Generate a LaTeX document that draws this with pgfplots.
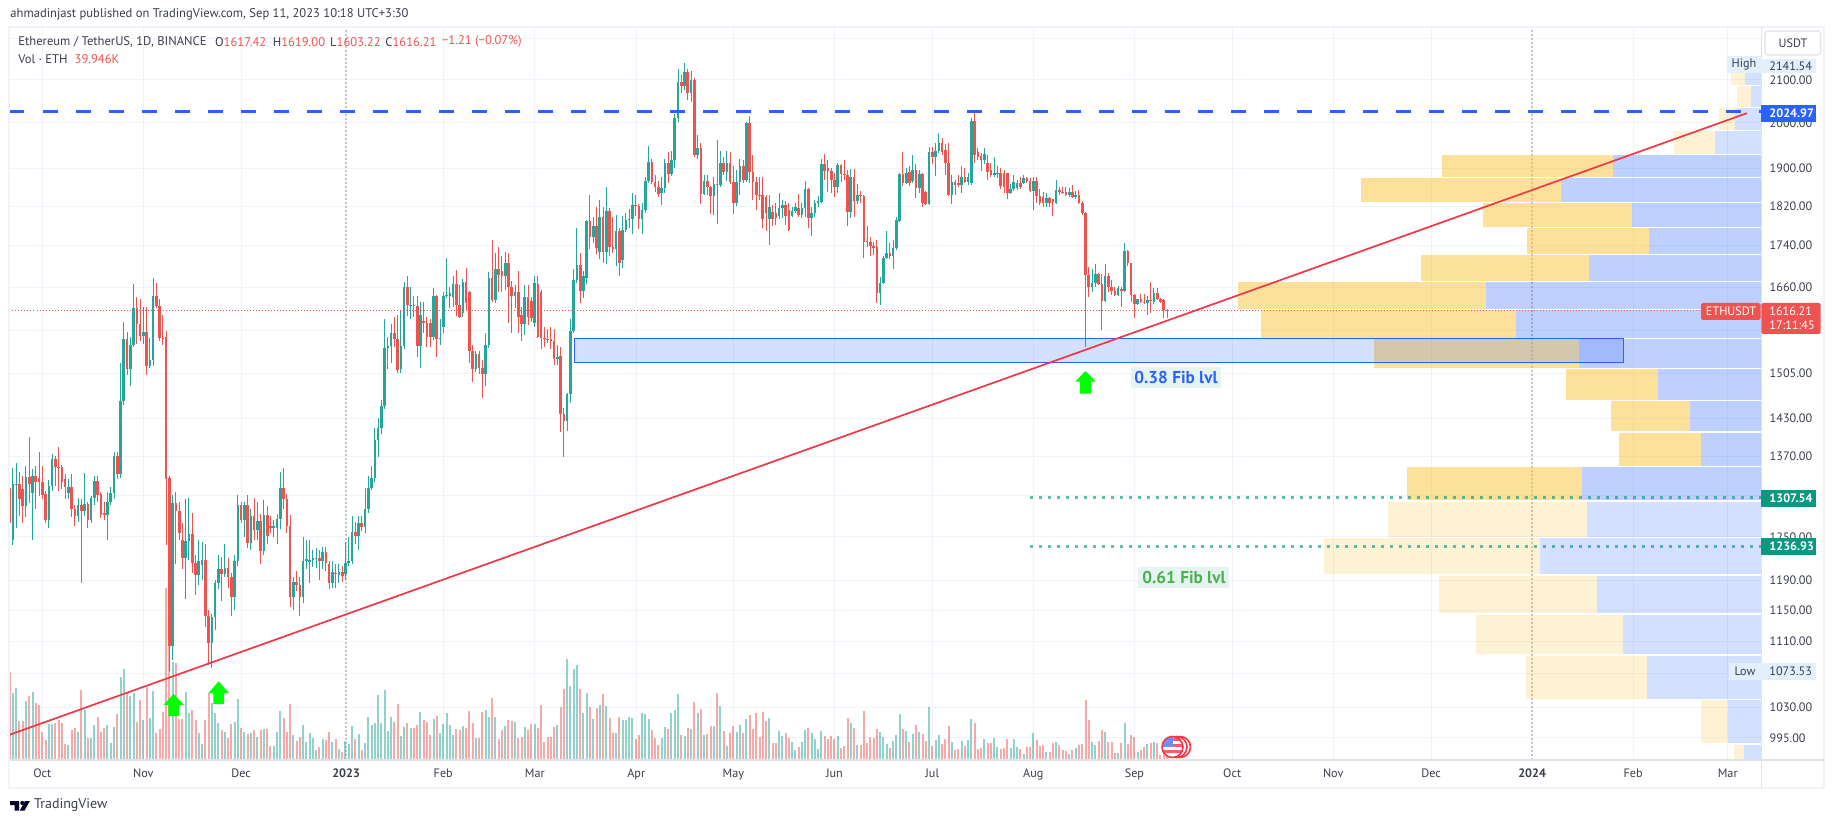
\documentclass[border=0pt]{standalone}
\usepackage{pgfplots}
\usepackage{pgfplotstable}
\usepackage{fontspec}
\setmainfont{PT Sans}
\pgfplotsset{compat=1.18}
\definecolor{up}{HTML}{26A69A}
\definecolor{dn}{HTML}{EF5350}
\definecolor{tvblue}{HTML}{2962FF}
\definecolor{vpY}{HTML}{FBC02D}
\definecolor{gridc}{HTML}{F0F3FA}
\definecolor{sepc}{HTML}{E0E3EB}
\definecolor{txt}{HTML}{3A3E4A}
\definecolor{tlred}{HTML}{F23645}
\definecolor{teal2}{HTML}{089981}
\definecolor{lightb}{HTML}{E3EFFD}
\definecolor{fibbg}{HTML}{E6F4F1}
\definecolor{fibgreen}{HTML}{4CAF50}
\pgfplotstableread{
d o h l c v
-10 1321 1406 1197 1270 707
-9 1246 1352 1238 1327 533
-8 1327 1360 1263 1328 573
-7 1328 1345 1280 1305 312
-6 1320 1340 1270 1295 312
-5 1295 1355 1278 1338 472
-4 1338 1400 1299 1328 512
-3 1314 1350 1245 1340 541
-2 1340 1355 1291 1331 459
-1 1337 1376 1310 1330 440
0 1330 1355 1305 1311 227
1 1312 1317 1270 1275 160
2 1275 1333 1263 1325 285
3 1325 1374 1317 1365 285
4 1365 1370 1325 1354 293
5 1354 1385 1317 1353 320
6 1353 1356 1320 1331 293
7 1335 1342 1305 1323 128
8 1314 1335 1305 1323 120
9 1323 1342 1278 1290 240
10 1290 1296 1265 1280 253
11 1280 1306 1272 1296 221
12 1296 1305 1187 1288 560
13 1288 1344 1280 1297 400
14 1297 1300 1263 1274 173
15 1274 1310 1270 1306 173
16 1306 1340 1296 1332 280
17 1332 1340 1300 1311 347
18 1312 1316 1277 1282 221
19 1284 1300 1275 1281 253
20 1281 1315 1245 1300 280
21 1300 1323 1296 1314 133
22 1314 1376 1305 1370 261
23 1370 1376 1335 1343 368
24 1343 1522 1337 1458 661
25 1458 1595 1452 1565 725
26 1565 1578 1502 1513 539
27 1513 1568 1483 1554 512
28 1554 1665 1550 1621 539
29 1621 1642 1556 1591 307
30 1591 1637 1561 1571 480
31 1571 1622 1556 1578 320
32 1578 1622 1503 1517 587
33 1517 1567 1514 1528 333
34 1528 1678 1517 1643 552
35 1643 1667 1621 1625 213
36 1625 1637 1562 1567 245
37 1567 1608 1555 1565 387
38 1568 1580 1238 1335 1373
39 1336 1340 1073.53 1104 1467
40 1104 1311 1087 1299 781
41 1299 1316 1212 1288 773
42 1288 1300 1245 1255 325
43 1246 1270 1205 1221 325
44 1221 1305 1165 1244 547
45 1244 1306 1218 1254 379
46 1254 1285 1200 1214 400
47 1214 1225 1170 1197 320
48 1197 1245 1183 1216 213
49 1211 1243 1190 1218 128
50 1218 1240 1128 1143 320
51 1143 1150 1081 1108 539
52 1108 1145 1077 1141 453
53 1141 1190 1125 1186 373
54 1186 1225 1178 1206 293
55 1206 1222 1163 1199 240
56 1199 1240 1195 1207 227
57 1207 1220 1180 1195 173
58 1195 1200 1143 1168 285
59 1168 1225 1150 1217 307
60 1217 1311 1210 1296 488
61 1296 1300 1270 1275 253
62 1275 1300 1250 1296 227
63 1296 1311 1235 1241 205
64 1241 1290 1232 1280 219
65 1280 1307 1245 1260 240
66 1260 1300 1245 1273 187
67 1273 1283 1212 1230 240
68 1230 1303 1225 1281 245
69 1281 1295 1240 1252 248
70 1265 1280 1255 1263 112
71 1263 1275 1250 1266 112
72 1263 1283 1240 1276 227
73 1276 1345 1262 1322 392
74 1322 1352 1290 1305 333
75 1305 1312 1255 1265 227
76 1265 1281 1155 1168 448
77 1168 1195 1150 1188 200
78 1188 1202 1175 1184 155
79 1184 1195 1143 1167 187
80 1167 1250 1160 1217 280
81 1217 1245 1205 1219 147
82 1215 1245 1187 1218 213
83 1218 1232 1208 1220 173
84 1219 1235 1207 1221 80
85 1221 1231 1190 1217 107
86 1217 1236 1206 1229 165
87 1229 1236 1203 1214 160
88 1212 1217 1178 1187 227
89 1187 1217 1180 1201 147
90 1200.5 1212 1180 1200 165
91 1197 1212 1187 1201 85
92 1201 1210 1188 1196 67
93 1198 1243 1190 1214 155
94 1214 1250 1210 1216 128
95 1216 1280 1212 1257 272
96 1257 1272 1240 1251 165
97 1251 1280 1232 1270 208
98 1270 1280 1258 1264 80
99 1264 1321 1256 1291 133
100 1291 1340 1285 1322 347
101 1322 1355 1319 1337 280
102 1337 1415 1330 1395 293
103 1395 1430 1368 1415 520
104 1415 1460 1405 1450 299
105 1450 1600 1445 1549 560
106 1549 1568 1513 1553 232
107 1553 1591 1522 1576 347
108 1576 1605 1550 1565 307
109 1565 1608 1505 1510 448
110 1512 1615 1505 1552 192
111 1552 1670 1548 1660 267
112 1660 1680 1606 1627 293
113 1625 1661 1600 1627 253
114 1627 1644 1604 1625 253
115 1625 1644 1534 1553 280
116 1553 1633 1515 1608 381
117 1597 1633 1575 1594 320
118 1594 1605 1550 1569 307
119 1594 1600 1550 1569 200
120 1569 1659 1563 1643 325
121 1643 1645 1534 1565 352
122 1565 1600 1555 1566 213
123 1586 1650 1575 1643 288
124 1643 1716 1640 1645 373
125 1643 1661 1621 1649 280
126 1642 1680 1623 1666 200
127 1666 1693 1606 1627 245
128 1627 1664 1603 1605 240
129 1612 1675 1605 1669 272
130 1669 1696 1615 1631 253
131 1650 1652 1522 1544 392
132 1544 1555 1490 1513 293
133 1513 1544 1507 1538 173
134 1538 1544 1504 1515 173
135 1515 1528 1463 1504 387
136 1504 1576 1484 1555 400
137 1555 1689 1549 1677 341
138 1677 1751 1632 1635 499
139 1635 1725 1630 1695 347
140 1695 1737 1650 1682 165
141 1690 1720 1650 1680 240
142 1680 1727 1655 1705 272
143 1705 1725 1594 1660 320
144 1660 1672 1576 1643 315
145 1643 1664 1621 1650 307
146 1650 1690 1576 1605 173
147 1608 1622 1561 1592 187
148 1592 1664 1572 1642 267
149 1642 1664 1590 1605 240
150 1634 1642 1596 1602 288
151 1593 1680 1586 1668 288
152 1665 1680 1566 1569 253
153 1650 1655 1548 1567 440
154 1567 1587 1550 1565 147
155 1565 1583 1558 1564 181
156 1565 1587 1548 1562 187
157 1562 1583 1520 1530 267
158 1530 1555 1520 1534 280
159 1535 1550 1408 1437 427
160 1437 1447 1369 1426 571
161 1426 1472 1409 1470 808
162 1470 1601 1455 1580 595
163 1580 1695 1575 1673 725
164 1673 1776 1667 1702 760
165 1702 1725 1630 1652 568
166 1652 1690 1640 1680 373
167 1678 1792 1665 1790 539
168 1790 1842 1733 1757 421
169 1757 1797 1745 1780 325
170 1780 1819 1723 1735 413
171 1727 1833 1713 1797 440
172 1797 1819 1705 1727 528
173 1727 1860 1703 1810 432
174 1810 1815 1720 1738 339
175 1738 1797 1726 1733 219
176 1733 1802 1700 1770 219
177 1770 1776 1680 1705 341
178 1712 1800 1696 1772 320
179 1772 1806 1768 1792 320
180 1792 1813 1775 1793 347
181 1793 1848 1763 1823 339
182 1823 1843 1800 1821 168
183 1821 1824 1773 1793 200
184 1793 1826 1763 1811 373
185 1811 1881 1806 1873 368
186 1873 1949 1868 1913 328
187 1913 1919 1865 1871 240
188 1871 1885 1850 1860 179
189 1860 1872 1838 1845 120
190 1846 1881 1822 1857 179
191 1857 1920 1848 1911 261
192 1911 1935 1868 1888 248
193 1888 1938 1883 1917 373
194 1917 2020 1900 2010 400
195 2010 2126 2001 2096 528
196 2096 2112 2070 2085 200
197 2085 2141.54 2075 2119 192
198 2119 2125 2052 2068 256
199 2068 2120 2047 2100 248
200 2100 2105 1924 1929 464
201 1929 1972 1920 1943 373
202 1943 1955 1825 1845 408
203 1845 1885 1843 1873 200
204 1873 1885 1843 1860 208
205 1860 1861 1804 1840 272
206 1840 1881 1802 1866 272
207 1866 1962 1783 1864 533
208 1864 1938 1860 1911 432
209 1911 1925 1885 1892 232
210 1892 1938 1873 1911 112
211 1911 1935 1865 1870 213
212 1870 1904 1804 1827 272
213 1827 1896 1821 1870 224
214 1870 1920 1843 1904 280
215 1904 1918 1868 1874 213
216 1874 2002 1870 2000 328
217 2000 2015 1868 1891 360
218 1891 1929 1833 1870 248
219 1870 1881 1812 1843 373
220 1843 1882 1833 1842 181
221 1842 1882 1775 1793 381
222 1838 1842 1770 1805 312
223 1793 1842 1741 1819 333
224 1807 1822 1780 1793 133
225 1806 1826 1782 1795 133
226 1800 1848 1793 1815 229
227 1815 1833 1795 1822 192
228 1822 1830 1782 1800 213
229 1812 1826 1770 1772 173
230 1800 1819 1798 1810 147
231 1810 1826 1805 1819 80
232 1815 1845 1798 1802 101
233 1802 1826 1795 1815 144
234 1815 1872 1798 1855 240
235 1855 1857 1775 1795 253
236 1796 1819 1760 1805 213
237 1805 1833 1798 1826 168
238 1826 1840 1819 1830 88
239 1828 1919 1826 1909 229
240 1909 1930 1875 1893 192
241 1900 1917 1850 1893 165
242 1893 1900 1846 1874 192
243 1874 1889 1839 1860 168
244 1860 1911 1847 1906 192
245 1906 1909 1870 1888 93
246 1888 1917 1875 1884 112
247 1884 1896 1780 1807 333
248 1807 1898 1795 1882 293
249 1882 1898 1798 1830 253
250 1830 1866 1825 1843 120
251 1843 1852 1826 1840 120
252 1840 1843 1716 1748 392
253 1750 1780 1738 1748 139
254 1748 1757 1720 1739 181
255 1740 1747 1722 1736 173
256 1738 1752 1631 1649 245
257 1649 1679 1627 1667 221
258 1667 1719 1665 1716 187
259 1716 1770 1713 1726 125
260 1726 1745 1713 1719 93
261 1719 1752 1695 1735 152
262 1735 1797 1732 1792 200
263 1790 1889 1788 1887 365
264 1887 1935 1861 1868 245
265 1868 1900 1866 1889 235
266 1892 1904 1861 1868 147
267 1873 1929 1868 1896 205
268 1896 1909 1836 1857 280
269 1857 1896 1847 1887 224
270 1887 1889 1817 1826 208
271 1850 1852 1823 1825 152
272 1825 1945 1823 1935 421
273 1935 1947 1909 1923 112
274 1923 1955 1883 1937 160
275 1937 1978 1933 1955 200
276 1955 1966 1928 1935 128
277 1939 1952 1884 1911 168
278 1911 1955 1840 1843 272
279 1843 1885 1825 1870 144
280 1870 1875 1843 1863 80
281 1868 1885 1859 1863 85
282 1863 1905 1847 1880 152
283 1880 1900 1868 1870 112
284 1870 1889 1863 1880 160
285 1868 2011 1864 2003 328
286 2003 2025 1910 1929 296
287 1935 1944 1917 1925 88
288 1927 1933 1893 1918 96
289 1918 1944 1909 1930 168
290 1910 1929 1875 1892 133
291 1896 1911 1882 1885 133
292 1885 1925 1882 1889 176
293 1887 1904 1878 1889 104
294 1889 1900 1855 1862 88
295 1889 1896 1847 1860 93
296 1889 1890 1834 1848 168
297 1848 1866 1846 1855 96
298 1855 1885 1851 1870 165
299 1857 1875 1853 1869 104
300 1869 1882 1855 1859 88
301 1869 1885 1866 1879 45
302 1879 1882 1868 1872 104
303 1872 1879 1849 1852 104
304 1852 1882 1812 1872 216
305 1872 1881 1826 1840 160
306 1840 1855 1823 1826 109
307 1838 1850 1819 1827 120
308 1827 1847 1817 1836 64
309 1836 1838 1819 1827 64
310 1834 1835 1800 1828 136
311 1826 1874 1824 1853 144
312 1853 1860 1843 1850 120
313 1850 1860 1845 1848 80
314 1849 1859 1840 1842 72
315 1842 1858 1838 1849 48
316 1849 1863 1836 1838 80
317 1838 1851 1834 1843 96
318 1843 1853 1825 1827 120
319 1827 1831 1802 1806 128
320 1806 1808 1551 1682 480
321 1682 1698 1641 1660 320
322 1660 1694 1651 1668 144
323 1668 1703 1661 1685 120
324 1685 1687 1664 1666 152
325 1666 1684 1581 1634 240
326 1634 1703 1632 1681 224
327 1681 1686 1651 1660 144
328 1660 1673 1645 1652 144
329 1652 1660 1643 1645 56
330 1645 1662 1643 1659 56
331 1657 1660 1622 1652 136
332 1652 1745 1650 1730 296
333 1730 1731 1700 1705 128
334 1705 1706 1632 1645 200
335 1645 1646 1603 1628 184
336 1628 1637 1626 1637 64
337 1637 1646 1630 1633 80
338 1633 1646 1629 1631 104
339 1631 1643 1609 1635 128
340 1635 1670 1611 1634 136
341 1632 1659 1628 1649 144
342 1649 1659 1636 1637 136
343 1637 1640 1631 1632 40
344 1635 1637 1603 1617 53
345 1617.42 1619 1603.22 1616.21 39.946
}\candles
\newcommand{\vprow}[6]{%
 \addplot[draw=none,fill=vpY,fill opacity=#5] coordinates {(#3,#1)(#4,#1)(#4,#2)(#3,#2)} -- cycle;
 \addplot[draw=none,fill=tvblue,fill opacity=#6] coordinates {(#4,#1)(527.3,#1)(527.3,#2)(#4,#2)} -- cycle;
}
\pgfplotsset{base/.style={scale only axis,width=875.9pt,height=366.5pt,at={(4.75pt,-380pt)},anchor=south west,
  xmin=-10.06,xmax=527.3,clip=true},
  updn/.style={restrict expr to domain={\thisrow{c}-\thisrow{o}}{0:100000}},
  dndn/.style={restrict expr to domain={\thisrow{c}-\thisrow{o}}{-100000:-0.00001}}}
\newcommand{\lab}{\fontsize{6.1}{7.5}\selectfont}
\newcommand{\hdr}{\fontsize{6.3}{7.5}\selectfont}
\newcommand{\tagb}[7]{%
 \fill[#5] (#1,#2) rectangle (#3,#4);
 \node[anchor=west,inner sep=0pt,text=#6,font=\lab] at (1769,{(#2+#4)/2}) {#7};
}
\begin{document}
\begin{tikzpicture}[x=0.5pt,y=-0.5pt]
\path[use as bounding box] (0,0) rectangle (1835,823);
\begin{axis}[base,ymode=log,ymin=970.5,ymax=2230,
  axis line style={draw=none},tick style={draw=none},
  grid=major,grid style={draw=gridc,line width=0.5pt},
  xtick={0,31,61,93.2,123,151.1,182.2,212,243,273,304,335,365,396,426,457,488,517},
  xticklabels={Oct,Nov,Dec,\textbf{2023},Feb,Mar,Apr,May,Jun,Jul,Aug,Sep,Oct,Nov,Dec,\textbf{2024},Feb,Mar},
  xticklabel style={font=\lab,text=txt,anchor=base,yshift=-8.8pt,inner sep=0pt},
  ytick={995,1030,1070,1110,1150,1190,1250,1310,1370,1430,1505,1580,1660,1740,1820,1900,2000,2100,2200},
  yticklabels={995.00,1030.00,1070.00,1110.00,1150.00,1190.00,1250.00,1310.00,1370.00,1430.00,1505.00,1580.00,1660.00,1740.00,1820.00,1900.00,2000.00,2100.00,{}},
  yticklabel pos=right,
  yticklabel style={font=\lab,text=txt,anchor=west,inner sep=0pt,xshift=4pt},
]
\addplot[draw=black!22,line width=0.9pt,dash pattern=on 1pt off 1pt] coordinates {(93.2,970.5)(93.2,2230)};
\addplot[draw=black!22,line width=0.9pt,dash pattern=on 1pt off 1pt] coordinates {(457,970.5)(457,2230)};
\vprow{2117}{2088}{518.0}{522.3}{0.2}{0.2}
\vprow{2086}{2037}{519.8}{524.1}{0.2}{0.2}
\vprow{2034}{1983}{514.3}{519.2}{0.2}{0.2}
\vprow{1981}{1930}{500.5}{513.1}{0.2}{0.2}
\vprow{1928}{1881}{429.3}{481.8}{0.48}{0.3}
\vprow{1879}{1829}{404.5}{465.9}{0.48}{0.3}
\vprow{1827}{1777}{442.0}{487.6}{0.48}{0.3}
\vprow{1775}{1724}{455.4}{492.7}{0.48}{0.3}
\vprow{1722}{1672}{422.9}{474.3}{0.48}{0.3}
\vprow{1670}{1619}{366.8}{442.8}{0.48}{0.3}
\vprow{1618}{1567}{373.8}{452.0}{0.48}{0.3}
\vprow{1565}{1514}{408.5}{471.4}{0.48}{0.3}
\vprow{1512}{1461}{467.4}{495.6}{0.48}{0.3}
\vprow{1459}{1409}{481.1}{505.4}{0.48}{0.3}
\vprow{1407}{1355}{483.6}{508.8}{0.48}{0.3}
\vprow{1353}{1303}{418.6}{472.2}{0.48}{0.3}
\vprow{1301}{1250}{412.7}{473.8}{0.2}{0.2}
\vprow{1249}{1198}{393.2}{459.3}{0.2}{0.2}
\vprow{1196}{1146}{428.4}{476.9}{0.2}{0.2}
\vprow{1144}{1094}{439.8}{484.9}{0.2}{0.2}
\vprow{1092}{1040.6}{455.1}{492.2}{0.2}{0.2}
\vprow{1039}{989}{508.8}{517.2}{0.2}{0.2}
\vprow{987}{970.5}{518.9}{522.0}{0.2}{0.2}
\end{axis}
\begin{axis}[base,hide axis,ymin=0,ymax=5864]
\addplot[updn,ycomb,no marks,draw=up,draw opacity=0.5,line width=1pt] table[x=d,y=v]{\candles};
\addplot[dndn,ycomb,no marks,draw=dn,draw opacity=0.5,line width=1pt] table[x=d,y=v]{\candles};
\end{axis}
\begin{axis}[base,ymode=log,ymin=970.5,ymax=2230,hide axis]
\addplot[updn,draw=none,no marks,error bars/.cd,y dir=both,y explicit,error mark=none,
   error bar style={draw=up,line width=0.5pt}]
  table[x=d,y=o,y error plus expr=\thisrow{h}-\thisrow{o},y error minus expr=\thisrow{o}-\thisrow{l}]{\candles};
\addplot[updn,draw=none,no marks,error bars/.cd,y dir=plus,y explicit,error mark=none,
   error bar style={draw=up,line width=1.3pt}]
  table[x=d,y=o,y error plus expr=\thisrow{c}-\thisrow{o}]{\candles};
\addplot[dndn,draw=none,no marks,error bars/.cd,y dir=both,y explicit,error mark=none,
   error bar style={draw=dn,line width=0.5pt}]
  table[x=d,y=c,y error plus expr=\thisrow{h}-\thisrow{c},y error minus expr=\thisrow{c}-\thisrow{l}]{\candles};
\addplot[dndn,draw=none,no marks,error bars/.cd,y dir=plus,y explicit,error mark=none,
   error bar style={draw=dn,line width=1.3pt}]
  table[x=d,y=c,y error plus expr=\thisrow{o}-\thisrow{c}]{\candles};
\addplot[draw=dn,line width=0.45pt,dash pattern=on 0.5pt off 1pt] coordinates {(-10.06,1616.21)(508.8,1616.21)};
\addplot[draw=tvblue,line width=0.5pt,fill=tvblue,fill opacity=0.2] coordinates {(163.1,1565)(485,1565)(485,1524)(163.1,1524)} -- cycle;
\addplot[draw=teal2,draw opacity=0.65,line width=1.4pt,dash pattern=on 1.5pt off 3pt] coordinates {(302.9,1307.54)(527.3,1307.54)};
\addplot[draw=teal2,draw opacity=0.65,line width=1.4pt,dash pattern=on 1.5pt off 3pt] coordinates {(302.9,1236.93)(527.3,1236.93)};
\addplot[draw=tvblue,line width=1.6pt,dash pattern=on 7.5pt off 9pt] coordinates {(-10.06,2024.97)(527.3,2024.97)};
\addplot[draw=tlred,line width=0.85pt] coordinates {(-10.06,998.6)(522.9,2022)};
\addplot[draw=none,fill=green] coordinates {(40.3,1046)(43.46,1033)(41.94,1033)(41.94,1020)(38.66,1020)(38.66,1033)(37.14,1033)} -- cycle;
\addplot[draw=none,fill=green] coordinates {(54.1,1061)(57.26,1047)(55.74,1047)(55.74,1034)(52.46,1034)(52.46,1047)(50.94,1047)} -- cycle;
\addplot[draw=none,fill=green] coordinates {(320,1509)(323.16,1491)(321.64,1491)(321.64,1471)(318.36,1471)(318.36,1491)(316.84,1491)} -- cycle;
\end{axis}
\draw[gridc,line width=1pt] (9,27) rectangle (1824,788);
\draw[sepc,line width=0.6pt] (9.5,760) -- (1823.5,760);
\draw[sepc,line width=0.6pt] (1761.3,27) -- (1761.3,788);
\node[anchor=west,inner sep=0pt,font=\hdr,text=txt] at (10,14.7) {ahmadinjast published on TradingView.com, Sep 11, 2023 10:18 UTC+3:30};
\node[anchor=west,inner sep=0pt,font=\hdr,text=txt] at (18,41.7) {Ethereum / TetherUS, 1D, BINANCE};
\node[anchor=west,inner sep=0pt,font=\hdr,text=txt] at (214.7,41.7) {O\textcolor{dn}{1617.42}};
\node[anchor=west,inner sep=0pt,font=\hdr,text=txt] at (272.4,41.7) {H\textcolor{dn}{1619.00}};
\node[anchor=west,inner sep=0pt,font=\hdr,text=txt] at (329.8,41.7) {L\textcolor{dn}{1603.22}};
\node[anchor=west,inner sep=0pt,font=\hdr,text=txt] at (385,41.7) {C\textcolor{dn}{1616.21}};
\node[anchor=west,inner sep=0pt,font=\hdr,text=dn] at (441.7,41.7) {−1.21 (−0.07\%)};
\node[anchor=west,inner sep=0pt,font=\hdr,text=txt] at (18,59) {Vol · ETH};
\node[anchor=west,inner sep=0pt,font=\hdr,text=dn] at (74.3,59) {39.946K};
\fill[fibbg] (1131,367) rectangle (1221,388);
\node[font=\bfseries\fontsize{8.6}{10}\selectfont,text=tvblue,inner sep=0pt] at (1176,377.5) {0.38 Fib lvl};
\fill[fibbg] (1138,567) rectangle (1229,588);
\node[font=\bfseries\fontsize{8.6}{10}\selectfont,text=fibgreen,inner sep=0pt] at (1184,577.5) {0.61 Fib lvl};
\draw[sepc,line width=0.6pt,fill=white,rounded corners=1.5pt] (1765,31) rectangle (1820.7,55);
\node[font=\lab,text=txt,inner sep=0pt] at (1793,43) {USDT};
\fill[lightb] (1727,56) rectangle (1760.5,72.7);
\node[font=\lab,text=txt,inner sep=0pt] at (1744,64) {High};
\tagb{1761.3}{59}{1816.4}{72.7}{lightb}{txt}{2141.54}
\tagb{1761.3}{105}{1816.4}{121.7}{tvblue}{white}{\textbf{2024.97}}
\fill[dn,rounded corners=0.8pt] (1701,303) rectangle (1760.5,320);
\node[font=\lab,text=white,inner sep=0pt] at (1731,311.5) {ETHUSDT};
\fill[dn,rounded corners=0.8pt] (1761.3,303) rectangle (1820.7,334);
\node[anchor=west,inner sep=0pt,font=\lab,text=white] at (1769,311.5) {1616.21};
\node[anchor=west,inner sep=0pt,font=\lab,text=white] at (1769,325.5) {17:11:45};
\tagb{1761.3}{490}{1816.4}{506.7}{teal2}{white}{\textbf{1307.54}}
\tagb{1761.3}{538}{1816.4}{555}{teal2}{white}{\textbf{1236.93}}
\fill[lightb] (1728.8,663) rectangle (1760.5,679.7);
\node[font=\lab,text=txt,inner sep=0pt] at (1745,671.5) {Low};
\tagb{1761.3}{663}{1816.4}{679.7}{lightb}{txt}{1073.53}
\foreach \cx in {1180,1176.5} {\draw[tlred,line width=0.8pt,fill=white] (\cx,747) circle (10.5);}
\begin{scope}
\clip (1172.5,747) circle (10.5);
\fill[white] (1160,735) rectangle (1185,760);
\fill[tvblue!70] (1162,736) rectangle (1172.5,747);
\fill[tlred!80] (1172.5,738) rectangle (1184,741);
\fill[tlred!80] (1172.5,744) rectangle (1184,747);
\fill[tlred!80] (1162,750) rectangle (1184,753);
\end{scope}
\draw[tlred,line width=0.8pt] (1172.5,747) circle (10.5);
\fill[black!85!blue] (10,801) -- (19,801) -- (19,810.5) -- (14.5,810.5) -- (14.5,805) -- (10,805) -- cycle;
\fill[black!85!blue] (22.3,803) circle (2.1);
\fill[black!85!blue] (25,801) -- (29.8,801) -- (24.5,810.5) -- (19.8,810.5) -- cycle;
\node[anchor=west,inner sep=0pt,font=\fontsize{7}{8}\selectfont,text=txt] at (33.6,805.5) {TradingView};
\end{tikzpicture}
\end{document}
